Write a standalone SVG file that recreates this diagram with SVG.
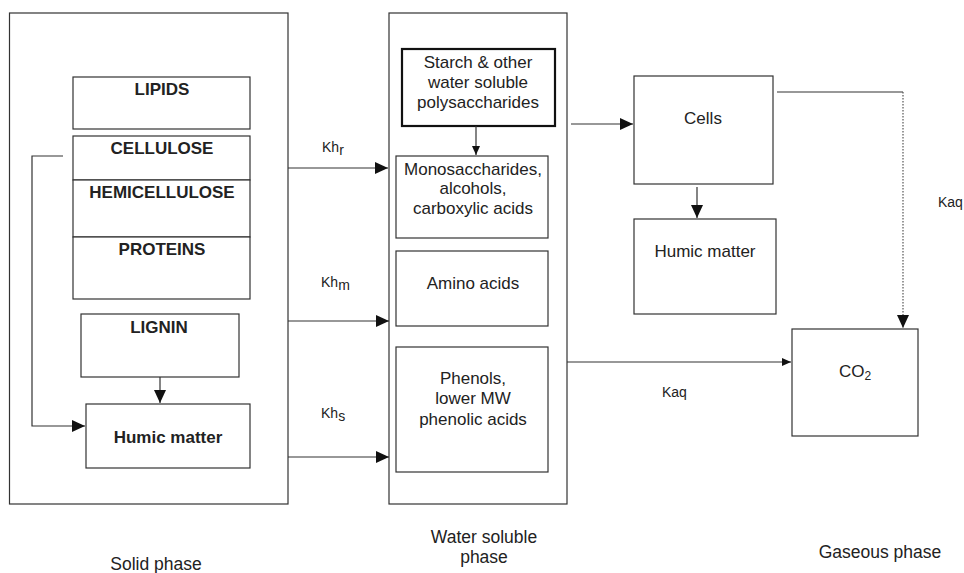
<svg xmlns="http://www.w3.org/2000/svg" width="964" height="573" viewBox="0 0 964 573">
  <style>
    .box { fill: #fff; stroke: #333; stroke-width: 1.2; }
    .thick { fill: #fff; stroke: #111; stroke-width: 2.2; }
    .line { fill: none; stroke: #333; stroke-width: 1.2; }
    .dot { fill: none; stroke: #555; stroke-width: 1.2; stroke-dasharray: 1.5 1.5; }
    text { font-family: "Liberation Sans", Arial, sans-serif; fill: #222; }
    .lbl { font-size: 17px; text-anchor: middle; }
    .phase { font-size: 17.5px; text-anchor: middle; }
    .bold { font-size: 17px; font-weight: bold; text-anchor: middle; }
    .k { font-size: 14px; }
  </style>
  <defs>
    <marker id="big" markerUnits="userSpaceOnUse" markerWidth="14" markerHeight="14" viewBox="0 0 14 14" refX="13" refY="7" orient="auto">
      <path d="M0,1 L13,7 L0,13 Z" fill="#111"/>
    </marker>
    <marker id="small" markerUnits="userSpaceOnUse" markerWidth="10" markerHeight="10" viewBox="0 0 10 10" refX="9" refY="5" orient="auto">
      <path d="M0,1 L9,5 L0,9 Z" fill="#111"/>
    </marker>
  </defs>

  <!-- phase containers -->
  <g id="solid-phase">
    <rect class="box" x="9.5" y="13" width="278.5" height="491"/>
    <text class="phase" x="156" y="570">Solid phase</text>
  </g>
  <g id="water-phase">
    <rect class="box" x="389" y="13" width="178" height="491"/>
    <text class="phase" x="484" y="543">Water soluble</text>
    <text class="phase" x="484" y="563">phase</text>
  </g>
  <g id="gas-phase">
    <text class="phase" x="880" y="558">Gaseous phase</text>
  </g>

  <!-- solid phase nodes -->
  <g id="lipids">
    <rect class="box" x="73" y="77" width="177" height="52"/>
    <text class="bold" x="162" y="95">LIPIDS</text>
  </g>
  <g id="cellulose">
    <rect class="box" x="73" y="136" width="177" height="44"/>
    <text class="bold" x="162" y="154">CELLULOSE</text>
  </g>
  <g id="hemicellulose">
    <rect class="box" x="73" y="180" width="177" height="57"/>
    <text class="bold" x="162" y="198">HEMICELLULOSE</text>
  </g>
  <g id="proteins">
    <rect class="box" x="73" y="237" width="177" height="62"/>
    <text class="bold" x="162" y="255">PROTEINS</text>
  </g>
  <g id="lignin">
    <rect class="box" x="81" y="314" width="158" height="63"/>
    <text class="bold" x="159" y="333">LIGNIN</text>
  </g>
  <g id="humic-solid">
    <rect class="box" x="86" y="404" width="164" height="64"/>
    <text class="bold" x="168" y="443">Humic matter</text>
  </g>

  <!-- water soluble nodes -->
  <g id="starch">
    <rect class="thick" x="402" y="49" width="153" height="77"/>
    <text class="lbl" x="478" y="68">Starch &amp; other</text>
    <text class="lbl" x="478" y="88">water soluble</text>
    <text class="lbl" x="478" y="108">polysaccharides</text>
  </g>
  <g id="monosaccharides">
    <rect class="box" x="396" y="156" width="152" height="82"/>
    <text class="lbl" x="473" y="175">Monosaccharides,</text>
    <text class="lbl" x="473" y="194">alcohols,</text>
    <text class="lbl" x="473" y="214">carboxylic acids</text>
  </g>
  <g id="amino-acids">
    <rect class="box" x="396" y="251" width="152" height="75"/>
    <text class="lbl" x="473" y="289">Amino acids</text>
  </g>
  <g id="phenols">
    <rect class="box" x="396" y="347" width="152" height="125"/>
    <text class="lbl" x="473" y="384">Phenols,</text>
    <text class="lbl" x="473" y="404">lower MW</text>
    <text class="lbl" x="473" y="425">phenolic acids</text>
  </g>

  <!-- gaseous / biomass nodes -->
  <g id="cells">
    <rect class="box" x="634" y="76" width="139" height="108"/>
    <text class="lbl" x="703" y="124">Cells</text>
  </g>
  <g id="humic-bio">
    <rect class="box" x="634" y="219" width="142" height="95"/>
    <text class="lbl" x="705" y="257">Humic matter</text>
  </g>
  <g id="co2">
    <rect class="box" x="792" y="329" width="126" height="107"/>
    <text class="lbl" x="855" y="377">CO<tspan font-size="12" dy="3">2</tspan></text>
  </g>

  <!-- connectors -->
  <g id="connectors">
    <path class="line" d="M63,156 H32 V426 H85" marker-end="url(#big)"/>
    <path class="line" d="M160,377 V403" marker-end="url(#big)"/>
    <path class="line" d="M288,168 H388" marker-end="url(#big)"/>
    <path class="line" d="M288,321 H389" marker-end="url(#big)"/>
    <path class="line" d="M288,457 H389" marker-end="url(#big)"/>
    <path class="line" d="M476,126 V155" marker-end="url(#small)"/>
    <path class="line" d="M571,124 H633" marker-end="url(#big)"/>
    <path class="line" d="M697,187 V218" marker-end="url(#big)"/>
    <path class="line" d="M777,92 H903"/>
    <path class="dot" d="M903,92 V328" marker-end="url(#big)"/>
    <path class="line" d="M567,362 H791" marker-end="url(#small)"/>
    <text class="k" x="322" y="152">Kh<tspan dy="3">r</tspan></text>
    <text class="k" x="321" y="287">Kh<tspan dy="3">m</tspan></text>
    <text class="k" x="321" y="418">Kh<tspan dy="3">s</tspan></text>
    <text class="k" x="662" y="397">Kaq</text>
    <text class="k" x="938" y="207">Kaq</text>
  </g>
</svg>
